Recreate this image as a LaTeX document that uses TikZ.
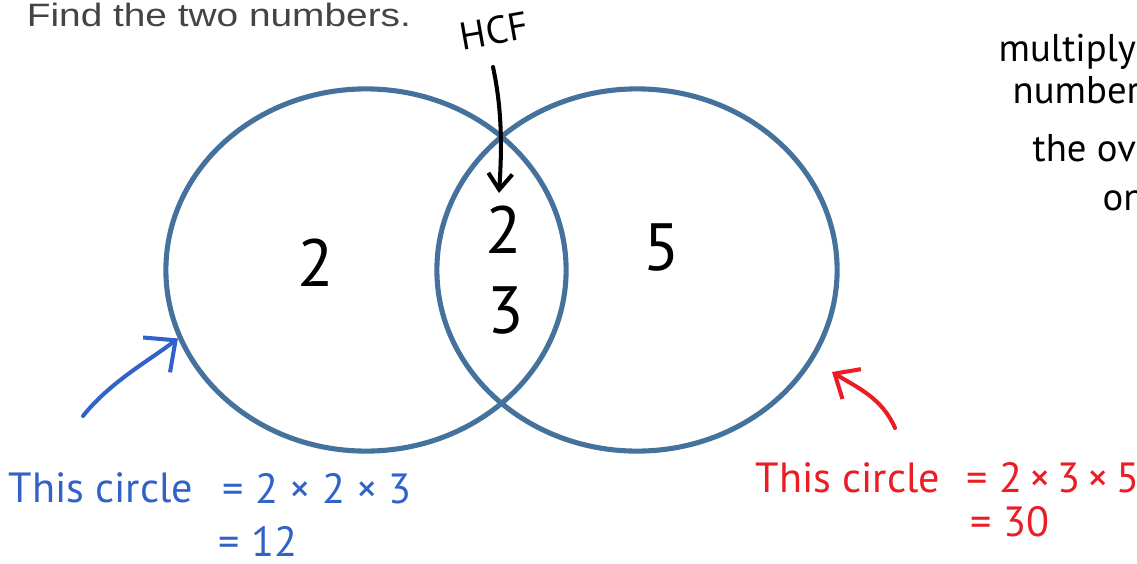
\documentclass[tikz,border=0pt]{standalone}
\usepackage{fontspec}
\setmainfont{Liberation Sans}
\newfontfamily\handfont{PT Sans}
\usetikzlibrary{shapes.geometric,arrows.meta}

\definecolor{setblue}{RGB}{69,114,157}
\definecolor{penblue}{RGB}{48,98,200}
\definecolor{penred}{RGB}{236,28,36}
\definecolor{qgray}{RGB}{68,68,68}

\tikzset{
  setring/.style={ellipse, draw=setblue, line width=1.45pt,
    minimum width=4cm, minimum height=3.62cm, inner sep=0pt},
  digit/.style={font=\handfont\fontsize{19}{19}\selectfont, inner sep=0pt},
  note/.style={font=\handfont\fontsize{12}{12}\selectfont, inner sep=0pt, anchor=base west},
  hand/.style={line width=1.15pt, line cap=round, line join=round},
}

\begin{document}
\begin{tikzpicture}[x=0.01cm, y=-0.01cm]

  \useasboundingbox (0,0) rectangle (1137,564);
  \fill[white] (0,0) rectangle (1137,564);

  % --- question ---
  \node[anchor=base west, inner sep=0pt, text=qgray, xscale=1.2,
    font=\fontsize{9.2}{9.2}\selectfont] (task) at (26,27) {Find the two numbers.};

  % --- the two sets ---
  \node[setring] (cA) at (366,270) {};
  \node[setring] (cB) at (637,270) {};

  % --- factors ---
  \node[digit] (fA)  at (316,263) {2};
  \node[digit] (fM1) at (504,230) {2};
  \node[digit] (fM2) at (506,311) {3};
  \node[digit] (fB)  at (662,248) {5};

  % --- HCF label and arrow ---
  \node[font=\handfont\fontsize{11}{11}\selectfont, rotate=10, inner sep=0pt] (hcf) at (494,31) {HCF};
  \coordinate (hcfTail) at (493,67);
  \coordinate (hcfTip) at (499,193);
  \draw[hand, -{Straight Barb[length=1.6mm, width=2.4mm]}]
    (hcfTail) .. controls (500,100) and (503,135) .. (hcfTip);

  % --- left circle (blue) ---
  \coordinate (bTail) at (83,416);
  \draw[hand, penblue, -{Straight Barb[length=2.4mm, width=4.4mm]}]
    (bTail) .. controls (110,382) and (150,360) .. (cA.200);
  \node[note, text=penblue] (bWho) at (8,502) {This circle};
  \node[note, text=penblue] (bEq)  at (222,503) {= 2 × 2 × 3};
  \node[note, text=penblue] (bRes) at (218,556) {= 12};

  % --- right circle (red) ---
  \coordinate (rTail) at (895,428);
  \coordinate (rTip) at (832,372);
  \draw[hand, penred, -{Straight Barb[length=2mm, width=3.5mm]}]
    (rTail) .. controls (882,398) and (858,388) .. (rTip);
  \node[note, text=penred] (rWho) at (755,492) {This circle};
  \node[note, text=penred] (rEq)  at (966,492) {= 2\,×\,3\,×\,5};
  \node[note, text=penred] (rRes) at (970,536) {= 30};

  % --- side note (cut by the page edge) ---
  \node[note, font=\handfont\fontsize{11}{11}\selectfont] (sn1) at (998,62)  {multiply};
  \node[note, font=\handfont\fontsize{11}{11}\selectfont] (sn2) at (1012,104) {numbers};
  \node[note, font=\handfont\fontsize{11}{11}\selectfont] (sn3) at (1032,162) {the ove};
  \node[note, font=\handfont\fontsize{11}{11}\selectfont] (sn4) at (1102,210) {on};

\end{tikzpicture}
\end{document}
